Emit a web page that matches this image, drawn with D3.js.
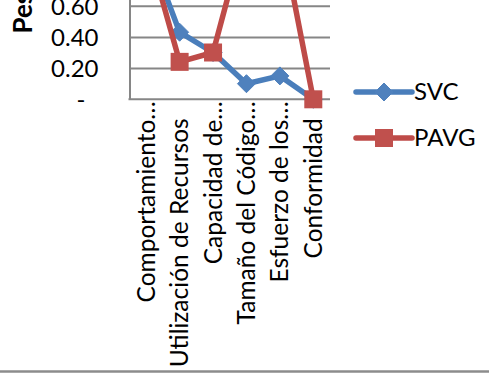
<!DOCTYPE html>
<html>
<head>
<meta charset="utf-8">
<script src="https://cdn.jsdelivr.net/npm/d3@7/dist/d3.min.js"></script>
<style>
  html, body { margin: 0; padding: 0; background: #fff; }
  svg { display: block; font-family: Lato, "Open Sans", sans-serif; }
</style>
</head>
<body>
<svg id="chart" width="489" height="373"></svg>
<script>
// ---- data ----
const categories = ["Comportamiento…", "Utilización de Recursos", "Capacidad de…", "Tamaño del Código…", "Esfuerzo de los…", "Conformidad"];
const seriesNames = ["SVC", "PAVG"];
const svcValues = [1.0, 0.43, 0.30, 0.10, 0.15, 0.0];
const pavgValues = [1.0, 0.24, 0.30, 1.1, 1.1, 0.0];
const yTicks = [0, 0.2, 0.4, 0.6];
const yTickLabels = ["-", "0.20", "0.40", "0.60"];
const yGridTicks = [0.2, 0.4, 0.6, 0.8, 1.0, 1.2];
const yTitle = "Peso";

// ---- layout ----
const svg = d3.select("#chart");
const W = 489, H = 373;
const plot = { left: 129.5, right: 330, bottom: 99.3 };
const pxPerUnit = 156;
const yMax = 1.2;

svg.append("rect").attr("width", W).attr("height", H).attr("fill", "#fff");

const x = d3.scaleBand().domain(categories).range([plot.left, plot.right]).padding(0);
const cx = c => x(c) + x.bandwidth() / 2;
const y = d3.scaleLinear().domain([0, yMax]).range([plot.bottom, plot.bottom - yMax * pxPerUnit]);

const gridColor = "#868686";

// gridlines
const grid = svg.append("g")
  .attr("transform", `translate(${plot.left},0)`)
  .call(d3.axisLeft(y).tickValues(yGridTicks).tickSize(-(plot.right - plot.left)).tickFormat(""));
grid.select(".domain").remove();
grid.selectAll(".tick line").attr("stroke", gridColor).attr("stroke-width", 2);

// y axis line + labels
const yAxis = svg.append("g")
  .attr("transform", `translate(${plot.left},0)`)
  .call(d3.axisLeft(y).tickValues(yTicks).tickSize(0).tickPadding(31)
    .tickFormat((d, i) => yTickLabels[i]));
yAxis.select(".domain").attr("stroke", gridColor).attr("stroke-width", 2);
yAxis.selectAll(".tick text")
  .attr("font-size", 24).attr("fill", "#000")
  .attr("font-family", "Lato, sans-serif")
  .attr("dy", "0.35em")
  .attr("x", (d, i) => yTickLabels[i] === "-" ? -44 : -31);

// bottom axis line
svg.append("line")
  .attr("x1", plot.left - 1).attr("x2", plot.right)
  .attr("y1", y(0)).attr("y2", y(0))
  .attr("stroke", gridColor).attr("stroke-width", 2);

// category labels (rotated)
svg.append("g").selectAll("text").data(categories).join("text")
  .attr("transform", d => `translate(${cx(d)},${y(0) + (d.endsWith("…") ? 2 : 19)}) rotate(-90)`)
  .attr("text-anchor", "end")
  .attr("dy", "0.35em")
  .attr("font-size", 24.5)
  .attr("fill", "#000")
  .text(d => d);

// y title
svg.append("text")
  .attr("transform", `translate(22.5,${(y(0) + y(yMax)) / 2}) rotate(-90)`)
  .attr("text-anchor", "middle")
  .attr("dy", "0.35em")
  .attr("font-size", 26)
  .attr("font-weight", "bold")
  .text(yTitle);

// series
const series = [
  { name: seriesNames[0], values: svcValues, stroke: "#4a7ebb", fill: "#4f81bd", shape: "diamond" },
  { name: seriesNames[1], values: pavgValues, stroke: "#be4b48", fill: "#c0504d", shape: "square" }
];

const line = d3.line().x((d, i) => cx(categories[i])).y(d => y(d));

function drawMarker(g, shape, fill) {
  if (shape === "diamond") {
    g.append("path").attr("d", "M0,-9 L9,0 L0,9 L-9,0 Z").attr("fill", fill).attr("stroke", fill).attr("stroke-width", 1);
  } else {
    g.append("rect").attr("x", -9).attr("y", -9).attr("width", 18).attr("height", 18).attr("fill", fill);
  }
}

series.forEach(s => {
  const g = svg.append("g");
  g.append("path").datum(s.values)
    .attr("d", line)
    .attr("fill", "none")
    .attr("stroke", s.stroke)
    .attr("stroke-width", 5.5)
    .attr("stroke-linejoin", "round")
    .attr("stroke-linecap", "round");
  s.values.forEach((v, i) => {
    const m = g.append("g").attr("transform", `translate(${cx(categories[i])},${y(v)})`);
    drawMarker(m, s.shape, s.fill);
  });
});

// legend
const legendY = [92, 138];
series.forEach((s, i) => {
  const g = svg.append("g").attr("transform", `translate(0,${legendY[i]})`);
  g.append("line").attr("x1", 356).attr("x2", 412).attr("y1", 0).attr("y2", 0)
    .attr("stroke", s.stroke).attr("stroke-width", 5.5).attr("stroke-linecap", "round");
  const m = g.append("g").attr("transform", "translate(384,0)");
  drawMarker(m, s.shape, s.fill);
  g.append("text").attr("x", 414).attr("dy", "0.35em").attr("font-size", 24).attr("fill", "#000").text(s.name);
});

// chart border bottom line
svg.append("line").attr("x1", 0).attr("x2", W).attr("y1", 371.5).attr("y2", 371.5)
  .attr("stroke", "#8c8c8c").attr("stroke-width", 2.5);
</script>
</body>
</html>
